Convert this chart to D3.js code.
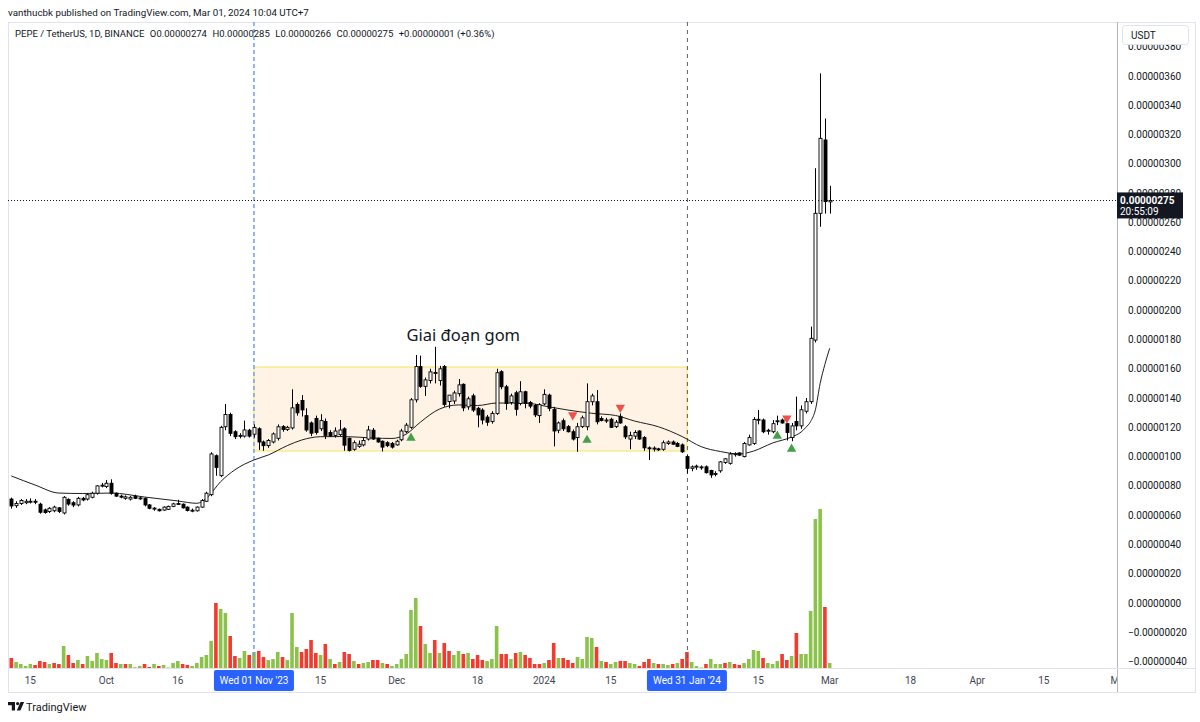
<!DOCTYPE html>
<html>
<head>
<meta charset="utf-8">
<script src="https://cdn.jsdelivr.net/npm/d3@7"></script>
<style>
  html, body { margin: 0; padding: 0; background: #fff; }
  svg { display: block; font-family: Roboto, "Liberation Sans", sans-serif; }
</style>
</head>
<body>
<svg id="chart" width="1200" height="722"></svg>
<script>
// PEPE / USDT daily, prices in units of 0.00000001
const firstDay = "2023-09-11";
const lastDay = "2024-03-01";

// [open, high, low, close]
const candles = [
  [71,72,64.5,66.3],[66.5,69.5,65,68],[68,71,67,70],[68.5,71,67.5,69.5],[69,71.5,68,69.5],
  [69.5,71,67.5,69],[67.5,68.5,61,62],[63.6,64.5,61,61.8],[62.5,65.5,61.5,64.7],[63,66.5,62,65.5],
  [65,65.5,61.5,62.5],[61.5,73,60.5,72.2],[70.8,71.5,66.5,67.6],[68.5,69.5,65.5,66.9],[67,72.5,66,71.5],
  [71.5,72.5,69.5,70.4],[71,75,70,74],[72.2,76,71.5,75],[75,80.5,74,80],[80,82,79,80.5],
  [79.6,84,78.5,81.8],[81.8,84.5,74,75],[75,75.5,72.5,73],[73,74,71.5,72.6],[71.5,73.5,70.5,72.5],
  [71,73,70,72.2],[73,74,71,71.5],[71.5,72.5,70.5,71.8],[71.5,72,66,67],[67,67.5,64,64.7],
  [64.5,65.5,63,64.8],[64,64.5,62.5,63],[63.5,66,63,65.5],[64,66.5,63.5,66],[66,68.5,65.5,67.7],
  [67.5,70.5,67,68],[67.5,68,64.5,65],[65.5,66,62.5,63.2],[63,64.5,62,63.4],[63,66,62.5,65.5],
  [65.5,71,65,70],[69.5,76,69,75],[74,103,73,101.8],[100.6,101.5,86.9,92.6],[87,121,86,120],
  [120.4,136,118,128.8],[128.8,130,114,115.9],[117,118,112,113.6],[114,116,112.5,114.5],[114,124.6,113,118.2],
  [118,119,113,114],[115.3,122,113,119.9],[119,120,104.5,110],[110,111,104,107.5],[107.5,112,106,111],
  [110,116.5,109,115.5],[112.5,122,111,120.4],[120.5,121.5,117,118.5],[118.5,121,117.5,120],[119.6,146,118.5,133.3],
  [135.6,137,128,129.9],[138.3,142,127.4,131.9],[128,133,117,118.2],[123,124,114,116],[126,128,115,116.5],
  [119,129,117.5,124.6],[124,126,112,114.5],[116.5,118,113.5,114.1],[114.5,120,113,117.5],[115,125,114,118.2],
  [119,120,104,107.8],[112.5,113,103.5,104.2],[105,111,104,109.5],[107,111,106,108.5],[108,113,107,111],
  [112,121,111,118.2],[118,119.5,111.5,112],[112.5,113,109.5,110],[110.5,111,103.5,106.5],[109.5,110.5,106.5,107.5],
  [109,110,105.5,106.5],[108,111.5,107.5,110.5],[111.5,119,110.5,117.5],[117,123,116,121.5],[120,140,119,138.8],
  [138.8,169.4,137,161.5],[161.5,169,147,148],[148,154,141.5,152.4],[152,160,150,157.9],[157,175,150,157.5],
  [152,162,148.5,160],[161.5,162.5,134,135.6],[137.6,142,133,142],[138,145,136,143.5],[143,153,141,149],
  [149.4,150,131,133.3],[134,141,132,139.5],[141.5,143,130.5,131.8],[133,134,120,128.5],[131.8,133,122,125],
  [127,128.5,121,123.5],[124,131,122.5,129.5],[129.5,160,128.5,157.3],[158,159,146,147.7],[147.7,149,132,136.3],
  [137,143,135.5,141.5],[143.6,145,128,132.3],[136.3,151.5,135,144.3],[144.3,145,133,136.3],[137,138,133,134.5],
  [135,136,127,128.5],[128,136.5,123,135.5],[136,146,135,142.5],[142,143,131,133],[132.3,134,107,117.5],
  [118,124,116,123],[124.5,126,117.5,119],[120.5,121.5,116.5,117],[117,118.5,111,112],[113,123,103.3,120.4],
  [120.5,128,119.5,126.5],[120.4,150,118,137.5],[137.5,143,135,141.5],[137.5,145.5,122,123.8],[126,127.5,124,124.7],
  [124.5,126.5,123,125],[125.5,126.5,119.5,120],[120.5,125,119.5,123.5],[127.5,129.5,122.5,123],[120.4,121.5,112,113.5],
  [112,117,105,114.5],[114,118,112,116.5],[117.5,118,111.5,112],[113,114,104,106],[106,107,97.7,105.5],
  [105.5,107,103.5,105.8],[105.3,106,103.8,105],[105,111,104,109.5],[109,111,108,110],[110,111,108,108.5],
  [109,110,106.5,107],[108,109,102.5,103.3],[100,101,88.5,92],[92,94,90,93],[93,94.5,91,93.5],
  [92.5,94,91,93],[93,94,88.5,89],[90.5,91,85.5,87.5],[88,90,86.5,88.5],[90.3,97,89,96.4],
  [96,99,95,98.5],[95.4,103,94.5,101.8],[101.5,103,100,102],[102.5,103,100.5,101],[100,110,99.5,109],
  [108,115,107.5,113],[109,127,108,125.4],[125,131.8,122,125.5],[125,126,116,117],[117.5,119,115,118],
  [117,125,116,122.5],[124,128,121.5,124.5],[125,126,122.5,123],[122.5,123,111,116.5],[113,123,110.5,121],
  [124,141,118,121],[121,135,119,132],[131,140,129.5,137.5],[137.5,188.8,136,180.8],[179.6,297,178,266.2],
  [266.2,361.8,257,317.4],[316.3,331,266,274.2],[274,285,266,275]
];

// daily volume (trillions PEPE)
const volumes = [
  1.1,0.7,0.5,0.3,0.5,0.4,0.8,0.7,0.5,0.6, 0.5,2.3,1.4,0.6,0.9,0.5,1.3,0.8,1.6,1.0,
  0.9,1.6,0.6,0.5,0.5,0.5,0.15,0.3,0.5,0.2, 0.5,0.3,0.4,0.15,0.6,0.8,0.5,0.4,0.3,0.6,
  1.2,1.4,2.8,6.6,6.0,5.6,3.3,1.3,1.1,1.8, 1.4,1.7,1.8,1.2,0.9,1.0,1.7,1.2,0.9,5.6,
  2.2,1.7,2.0,2.9,1.6,1.4,2.5,1.0,0.5,0.7, 1.7,1.5,0.8,0.5,0.6,0.7,0.9,0.9,0.6,0.5,
  0.3,0.5,1.0,1.5,5.9,7.1,4.3,2.5,1.6,2.9, 1.6,2.6,1.8,1.4,1.8,1.5,1.6,1.0,1.4,0.9,
  0.8,1.0,4.3,1.5,1.5,1.0,1.6,1.7,1.4,1.1, 0.5,0.5,0.6,0.9,2.6,1.1,1.1,0.9,0.6,1.2,
  1.0,3.2,3.1,2.2,0.8,0.7,0.5,0.7,0.8,0.8, 0.6,0.5,0.3,0.7,1.0,0.6,0.5,0.5,0.4,0.5,
  0.6,1.0,1.7,0.7,0.3,0.15,0.5,1.0,0.5,0.5, 0.6,0.7,0.5,0.4,0.6,1.0,1.9,1.8,1.1,0.6,
  0.5,0.8,1.5,0.9,1.3,3.6,1.5,1.5,5.8,15.0, 16.0,6.2,0.6
];
// g = up volume, r = down volume
const volumeSides =
  "rggggrrrgr" + "rgrrgrgggg" + "grrgrgrgrr" + "grggggrrgg" + "gggrggrrgg" +
  "rgrrgggrgg" + "grrrrgrgrg" + "rrgrggrrgr" + "ggggggrggr" + "grrggrgrrr" +
  "gggrrgrgrr" + "rrgrrgrrrg" + "gggrgrggrr" + "ggrrrgrggr" + "grrgggrggg" +
  "rgrrggggrg" + "ggrrgrgggg" + "grg";

// moving average
const maPoints = [
  ["2023-09-11",86.8],["2023-09-16",80.6],["2023-09-21",75.1],["2023-09-26",74.8],["2023-10-02",75.1],
  ["2023-10-09",72.4],["2023-10-16",69.7],["2023-10-20",68.1],["2023-10-22",71.5],["2023-10-25",82.9],
  ["2023-10-28",91],["2023-11-01",97.7],["2023-11-04",101.1],["2023-11-08",107.5],["2023-11-11",111.3],
  ["2023-11-15",113.6],["2023-11-20",113.7],["2023-11-26",112.7],["2023-11-30",112.4],["2023-12-03",115.4],
  ["2023-12-06",123.6],["2023-12-10",132.5],["2023-12-14",135.3],["2023-12-18",134.9],["2023-12-22",136.6],
  ["2023-12-28",136.6],["2024-01-01",134.6],["2024-01-06",131.8],["2024-01-11",129.6],["2024-01-16",128.1],
  ["2024-01-20",124.3],["2024-01-25",120.4],["2024-01-30",113.7],["2024-02-03",106.8],["2024-02-07",103.5],
  ["2024-02-11",101.8],["2024-02-14",103.8],["2024-02-18",109.3],["2024-02-22",113.4],["2024-02-24",116.8],
  ["2024-02-25",120],["2024-02-26",124],["2024-02-27",132],["2024-02-28",150],["2024-02-29",163],
  ["2024-03-01",174]
];

const buySignals = [["2023-12-04",112.7],["2024-01-10",111.3],["2024-02-19",114.1],["2024-02-22",105.2]];
const sellSignals = [["2024-01-07",128.4],["2024-01-17",133.5],["2024-02-21",126.2]];

const zone = {from: "2023-11-01", to: "2024-01-31", low: 103.8, high: 161.2, label: "Giai đoạn gom", labelDate: "2023-12-15", labelPrice: 179};
const markedDays = [["2023-11-01", "Wed 01 Nov '23", "#6f9ef8"], ["2024-01-31", "Wed 31 Jan '24", "#6f9ef8"]];

const timeTicks = [
  ["2023-09-15","15"],["2023-10-01","Oct"],["2023-10-16","16"],["2023-11-15","15"],["2023-12-01","Dec"],
  ["2023-12-18","18"],["2024-01-01","2024"],["2024-01-15","15"],["2024-02-15","15"],["2024-03-01","Mar"],
  ["2024-03-18","18"],["2024-04-01","Apr"],["2024-04-15","15"],["2024-05-01","May"]
];
const priceTicks = d3.range(-40, 381, 20);
const lastPrice = 275;
const countdown = "20:55:09";

const title = "vanthucbk published on TradingView.com, Mar 01, 2024 10:04 UTC+7";
const legendParts = ["PEPE / TetherUS, 1D, BINANCE", "O0.00000274", "H0.00000285", "L0.00000266", "C0.00000275", "+0.00000001 (+0.36%)"];


const parseDay = d3.utcParse("%Y-%m-%d");
const fmtPrice = v => (v < 0 ? "\u2212" : "") + (Math.abs(v) * 1e-8).toFixed(8);

function createChart() {
  const svg = d3.select("#chart");
  const pane = {left: 8, right: 1117, top: 22, bottom: 668};
  const axisBottom = 692;
  const frameRight = 1195;

  const days = d3.utcDay.range(parseDay(firstDay), d3.utcDay.offset(parseDay(lastDay), 1));
  const bars = days.map((d, i) => ({
    date: d, o: candles[i][0], h: candles[i][1], l: candles[i][2], c: candles[i][3],
    vol: volumes[i], up: volumeSides[i] === "g"
  }));

  const x = d3.scaleUtc()
    .domain([parseDay("2023-09-11"), parseDay("2024-05-01")])
    .range([11.3, 1119.9]);
  const y = d3.scaleLinear().domain([0, 360]).range([603, 76]);
  const yVol = d3.scaleLinear().domain([0, 16]).range([pane.bottom + 1, 509]);

  svg.append("defs").append("clipPath").attr("id", "paneClip")
    .append("rect")
    .attr("x", pane.left).attr("y", pane.top)
    .attr("width", pane.right - pane.left).attr("height", pane.bottom - pane.top);
  svg.select("defs").append("clipPath").attr("id", "timeClip")
    .append("rect")
    .attr("x", pane.left).attr("y", pane.bottom)
    .attr("width", pane.right - pane.left).attr("height", axisBottom - pane.bottom);

  // title above chart
  svg.append("text")
    .attr("x", 8).attr("y", 16)
    .attr("font-size", 9.8).attr("fill", "#131722")
    .text(title);

  // frame
  const frame = svg.append("g").attr("stroke", "#e0e3eb").attr("fill", "none");
  frame.append("rect")
    .attr("x", pane.left + 0.5).attr("y", pane.top + 0.5)
    .attr("width", frameRight - pane.left).attr("height", axisBottom - pane.top);
  frame.append("line")
    .attr("x1", pane.right + 0.5).attr("x2", pane.right + 0.5)
    .attr("y1", pane.top).attr("y2", axisBottom)
    .attr("stroke", "#b2b5be");
  frame.append("line")
    .attr("x1", pane.left).attr("x2", frameRight)
    .attr("y1", pane.bottom + 0.5).attr("y2", pane.bottom + 0.5);

  const g = svg.append("g").attr("clip-path", "url(#paneClip)");

  // accumulation zone
  g.append("rect")
    .attr("x", x(parseDay(zone.from)))
    .attr("y", y(zone.high))
    .attr("width", x(parseDay(zone.to)) - x(parseDay(zone.from)))
    .attr("height", y(zone.low) - y(zone.high))
    .attr("fill", "#fef3e4")
    .attr("stroke", "#f9e35a")
    .attr("stroke-width", 1);

  // volume
  const bw = 3.6;
  g.append("g")
    .selectAll("rect")
    .data(bars)
    .join("rect")
    .attr("x", d => x(d.date) - bw / 2)
    .attr("y", d => yVol(d.vol))
    .attr("width", bw)
    .attr("height", d => yVol(0) - yVol(d.vol))
    .attr("fill", d => d.up ? "#8bc34a" : "#f4392f");

  // marked days (vertical dashed lines)
  g.append("line")
    .attr("x1", x(parseDay(markedDays[0][0]))).attr("x2", x(parseDay(markedDays[0][0])))
    .attr("y1", pane.top).attr("y2", pane.bottom)
    .attr("stroke", markedDays[0][2]).attr("stroke-width", 1.5)
    .attr("stroke-dasharray", "4,3");
  g.append("line")
    .attr("x1", x(parseDay(markedDays[1][0])) + 0.5).attr("x2", x(parseDay(markedDays[1][0])) + 0.5)
    .attr("y1", pane.top).attr("y2", pane.bottom)
    .attr("stroke", "#5d606b").attr("stroke-width", 1)
    .attr("stroke-dasharray", "4,4");

  // moving average
  const maLine = d3.line()
    .x(d => x(parseDay(d[0])))
    .y(d => y(d[1]))
    .curve(d3.curveMonotoneX);
  g.append("path")
    .datum(maPoints)
    .attr("d", maLine)
    .attr("fill", "none")
    .attr("stroke", "#1e1e1e")
    .attr("stroke-width", 1);

  // candles
  const candleG = g.append("g")
    .selectAll("g")
    .data(bars)
    .join("g");

  candleG.append("line")
    .attr("x1", d => Math.round(x(d.date)) + 0.5)
    .attr("x2", d => Math.round(x(d.date)) + 0.5)
    .attr("y1", d => y(d.h))
    .attr("y2", d => y(d.l))
    .attr("stroke", "#000")
    .attr("stroke-width", 1);

  candleG.append("rect")
    .attr("x", d => Math.round(x(d.date)) - 1)
    .attr("y", d => y(Math.max(d.o, d.c)))
    .attr("width", 3)
    .attr("height", d => Math.max(1, Math.abs(y(d.o) - y(d.c))))
    .attr("fill", d => d.c >= d.o ? "#fff" : "#000")
    .attr("stroke", "#000")
    .attr("stroke-width", 0.9);

  // signal arrows
  const tri = d3.symbol().type(d3.symbolTriangle).size(38);
  g.append("g")
    .selectAll("path")
    .data(buySignals)
    .join("path")
    .attr("d", tri)
    .attr("transform", d => `translate(${x(parseDay(d[0]))},${y(d[1])})`)
    .attr("fill", "#43a047");
  g.append("g")
    .selectAll("path")
    .data(sellSignals)
    .join("path")
    .attr("d", tri)
    .attr("transform", d => `translate(${x(parseDay(d[0]))},${y(d[1])}) rotate(180)`)
    .attr("fill", "#f0504a");

  // zone label
  g.append("text")
    .attr("x", x(parseDay(zone.labelDate)))
    .attr("y", y(zone.labelPrice))
    .attr("text-anchor", "middle")
    .attr("font-family", "'Noto Sans', sans-serif")
    .attr("font-size", 16.5)
    .attr("fill", "#131722")
    .text(zone.label);

  // crosshair at last price
  g.append("line")
    .attr("x1", pane.left).attr("x2", pane.right)
    .attr("y1", Math.round(y(lastPrice)) + 0.5).attr("y2", Math.round(y(lastPrice)) + 0.5)
    .attr("stroke", "#131722")
    .attr("stroke-dasharray", "1,2");

  // legend line
  const legend = svg.append("g")
    .attr("font-size", 9.5)
    .attr("fill", "#131722");
  let lx = 15;
  legendParts.forEach(t => {
    const node = legend.append("text").attr("x", lx).attr("y", 37).text(t);
    lx += node.node().getComputedTextLength() + 5.5;
  });

  // price axis
  const pAxis = svg.append("g")
    .attr("font-size", 10)
    .attr("fill", "#131722");
  pAxis.selectAll("text")
    .data(priceTicks)
    .join("text")
    .attr("x", 1128)
    .attr("y", d => y(d))
    .attr("dy", "0.35em")
    .text(d => fmtPrice(d));

  // currency box
  svg.append("rect")
    .attr("x", 1122.5).attr("y", 25.5)
    .attr("width", 66).attr("height", 19).attr("rx", 3)
    .attr("fill", "#fff").attr("stroke", "#e0e3eb");
  svg.append("text")
    .attr("x", 1131).attr("y", 39)
    .attr("font-size", 10).attr("fill", "#131722")
    .text("USDT");

  // last price label
  const lp = svg.append("g");
  lp.append("rect")
    .attr("x", pane.right).attr("y", y(lastPrice) - 8)
    .attr("width", 66).attr("height", 26)
    .attr("fill", "#131722");
  lp.append("text")
    .attr("x", 1120).attr("y", y(lastPrice) + 3.5)
    .attr("font-size", 10).attr("font-weight", "bold").attr("fill", "#fff")
    .text(fmtPrice(lastPrice));
  lp.append("text")
    .attr("x", 1120).attr("y", y(lastPrice) + 14.5)
    .attr("font-size", 10).attr("fill", "#fff")
    .text(countdown);

  // time axis
  const tAxis = svg.append("g")
    .attr("clip-path", "url(#timeClip)")
    .attr("font-size", 10)
    .attr("fill", "#434651")
    .attr("text-anchor", "middle");
  tAxis.selectAll("text")
    .data(timeTicks)
    .join("text")
    .attr("x", d => x(parseDay(d[0])))
    .attr("y", 684)
    .text(d => d[1]);

  markedDays.forEach(m => {
    const cx = x(parseDay(m[0]));
    tAxis.append("rect")
      .attr("x", cx - 40).attr("y", 670)
      .attr("width", 80).attr("height", 21).attr("rx", 2)
      .attr("fill", "#2962ff");
    tAxis.append("text")
      .attr("x", cx).attr("y", 684)
      .attr("fill", "#fff")
      .text(m[1]);
  });

  // footer logo
  const logo = svg.append("g").attr("fill", "#131722");
  logo.append("path").attr("d", "M8 702h7v8.5h-3.2v-5.3H8z");
  logo.append("circle").attr("cx", 17.6).attr("cy", 703.6).attr("r", 1.6);
  logo.append("path").attr("d", "M20.5 702h3.6l-3.7 8.5h-3.6z");
  svg.append("text")
    .attr("x", 26).attr("y", 711)
    .attr("font-size", 11).attr("fill", "#131722")
    .text("TradingView");
}

createChart();
</script>
</body>
</html>
